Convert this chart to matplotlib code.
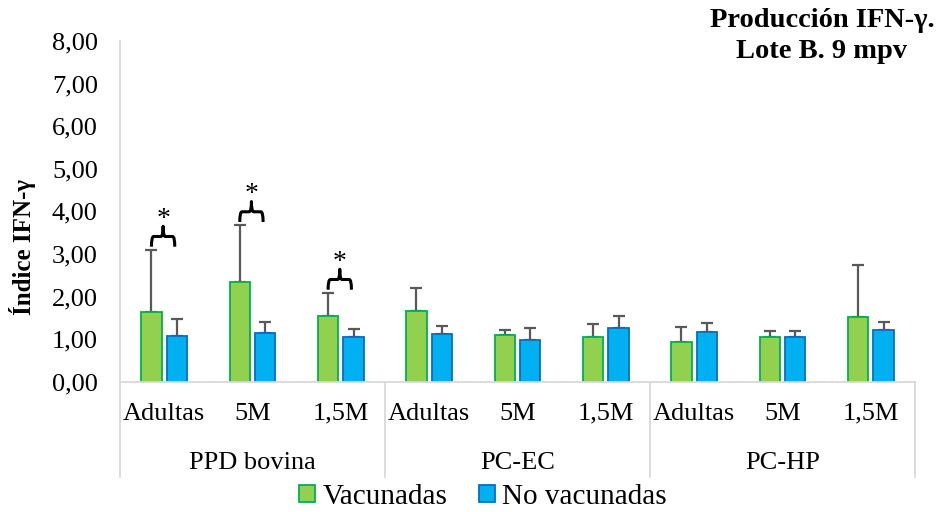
import matplotlib
matplotlib.use("Agg")
import matplotlib.pyplot as plt
import matplotlib.transforms as mtransforms
from matplotlib.path import Path
from matplotlib.patches import PathPatch, Patch
import numpy as np

plt.rcParams['font.family'] = ['Liberation Serif', 'DejaVu Serif']

groups = ['PPD bovina', 'PC-EC', 'PC-HP']
subcats = ['Adultas', '5M', '1,5M']
vac = [1.63, 2.35, 1.55, 1.66, 1.09, 1.04, 0.93, 1.05, 1.53]
vac_sd = [1.46, 1.32, 0.53, 0.54, 0.12, 0.31, 0.36, 0.13, 1.20]
novac = [1.08, 1.14, 1.06, 1.12, 0.99, 1.25, 1.17, 1.05, 1.22]
novac_sd = [0.40, 0.26, 0.18, 0.19, 0.28, 0.29, 0.21, 0.14, 0.19]
signif = [0, 1, 2]
yticks = [0, 1, 2, 3, 4, 5, 6, 7, 8]
ytick_labels = ['0,00', '1,00', '2,00', '3,00', '4,00', '5,00', '6,00', '7,00', '8,00']
series_names = ['Vacunadas', 'No vacunadas']

W, H = 939, 512
fig = plt.figure(figsize=(W / 100, H / 100), dpi=100)
ax_left, ax_right = 120, 915
ax_bot, ax_top = 381.7, 41
ax = fig.add_axes([ax_left / W, (H - ax_bot) / H, (ax_right - ax_left) / W, (ax_bot - ax_top) / H])

n = len(vac)
x = np.arange(n)
off = 0.144
bw = 0.232
g_fc, g_ec = '#92D050', '#00B050'
b_fc, b_ec = '#00B0F0', '#0070C0'
err_c = '#595959'

ax.bar(x - off, vac, bw, color=g_fc, edgecolor=g_ec, linewidth=1.3, zorder=2)
ax.bar(x + off, novac, bw, color=b_fc, edgecolor=b_ec, linewidth=1.3, zorder=2)
ax.errorbar(x - off, vac, yerr=[np.zeros(n), vac_sd], fmt='none', ecolor=err_c,
            elinewidth=1.6, capsize=4.3, capthick=1.6, zorder=1)
ax.errorbar(x + off, novac, yerr=[np.zeros(n), novac_sd], fmt='none', ecolor=err_c,
            elinewidth=1.6, capsize=4.3, capthick=1.6, zorder=1)

ax.set_xlim(-0.5, n - 0.5)
ax.set_ylim(0, 8)
ax.set_yticks(yticks)
ax.set_yticklabels(ytick_labels, fontsize=19)
ax.tick_params(axis='y', length=0, pad=16)
ax.set_xticks(x)
ax.set_xticklabels(subcats * len(groups), fontsize=19)
ax.tick_params(axis='x', length=0, pad=15)
for s in ['top', 'right']:
    ax.spines[s].set_visible(False)
for s in ['left', 'bottom']:
    ax.spines[s].set_color('#d9d9d9')
    ax.spines[s].set_linewidth(1.3)

# group separators and labels
bt = mtransforms.blended_transform_factory(ax.transData, fig.transFigure)
y_axis_fig = (H - ax_bot) / H
y_sep_end = (H - 477) / H
for k in range(len(groups) + 1):
    xs = -0.5 + 3 * k
    ax.plot([xs, xs], [y_axis_fig, y_sep_end], transform=bt, color='#d9d9d9',
            lw=1.3, clip_on=False)
for k, g in enumerate(groups):
    ax.text(3 * k + 1, (H - 463) / H, g, transform=bt, ha='center', va='center', fontsize=19)

# significance braces
def brace(ax, x1, x2, yb, yh, yt, dx=0.025):
    xm = (x1 + x2) / 2
    verts = [(x1, yb), (x1, yh), (x1 + dx, yh), (xm - dx, yh), (xm, yh), (xm, yt),
             (xm, yh), (xm + dx, yh), (x2 - dx, yh), (x2, yh), (x2, yb)]
    codes = [Path.MOVETO, Path.CURVE3, Path.CURVE3, Path.LINETO, Path.CURVE3, Path.CURVE3,
             Path.CURVE3, Path.CURVE3, Path.LINETO, Path.CURVE3, Path.CURVE3]
    ax.add_patch(PathPatch(Path(verts, codes), fill=False, lw=2.2, edgecolor='black',
                           capstyle='butt', joinstyle='round', clip_on=False, zorder=3))
    return xm

for i in signif:
    top = vac[i] + vac_sd[i]
    xm = brace(ax, i - off, i + 0.12, top + 0.08, top + 0.32, top + 0.56)
    ax.text(xm, top + 0.72, '*', ha='center', va='center', fontsize=20)

# title
fig.text(822 / W, 1 - 36 / H, 'Producción IFN-γ.\nLote B. 9 mpv', ha='center', va='center',
         fontsize=20.5, fontweight='bold', linespacing=1.3)

# y label
fig.text(23 / W, 1 - 247 / H, 'Índice IFN-γ', rotation=90, ha='center', va='center',
         fontsize=18, fontweight='bold')

handles = [Patch(facecolor=g_fc, edgecolor=g_ec, linewidth=1.3),
           Patch(facecolor=b_fc, edgecolor=b_ec, linewidth=1.3)]
fig.legend(handles, series_names, loc='center', bbox_to_anchor=(483 / W, 1 - 497 / H), ncol=2,
           frameon=False, handlelength=0.55, handleheight=0.55, handletextpad=0.25,
           columnspacing=1.1, fontsize=21, borderpad=0)

fig.savefig('out.png', dpi=100)
